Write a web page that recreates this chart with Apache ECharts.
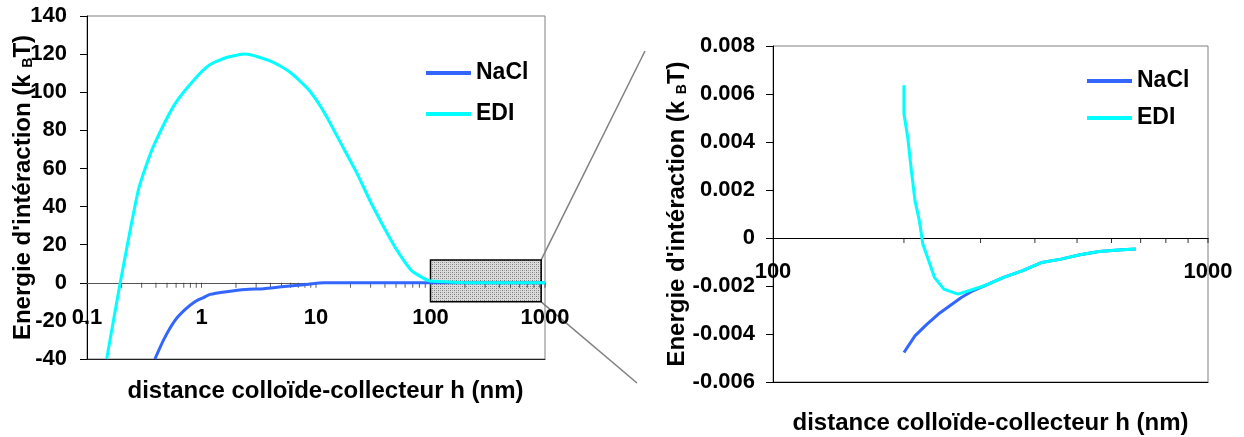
<!DOCTYPE html>
<html lang="fr">
<head>
    <meta charset="UTF-8">
    <title>Energie d'intéraction</title>
    <style>
        html, body { margin: 0; padding: 0; background: #fff; }
        #main { width: 1244px; height: 437px; }
    </style>
</head>
<body>
    <div id="main"></div>

    <script src="https://cdn.jsdelivr.net/npm/echarts@6/dist/echarts.min.js"></script>
    <script>
        // --- données ---
        // vue d'ensemble : h en nm, énergie en kBT
        const ediH   = [0.1485, 0.195, 0.279, 0.327, 0.392, 0.581, 0.863, 1.19, 1.71, 2.41, 4.05, 5.79, 8.6, 11.9, 17.0, 22.7, 30.2, 46.5, 57.7, 69.1, 85.8, 100];
        const ediE   = [-40, 0, 48, 61.2, 73.4, 93.5, 106.6, 114.5, 118.5, 120, 116.2, 111, 101.4, 89, 71.7, 57.7, 42, 21, 12.2, 6.1, 2.6, 0.9];
        const naclH  = [0.392, 0.469, 0.581, 0.721, 0.895, 1.03, 1.19, 1.65, 2.43, 3.5, 5.0, 7.8, 11.9, 30, 100];
        const naclE  = [-40, -29.7, -20.1, -14, -9.6, -7.9, -6.1, -4.7, -3.5, -3.1, -2.1, -1, 0, 0, 0];

        // zoom 100-1000 nm
        const zEdiH  = [200, 200, 204, 208, 212, 217, 221, 228, 235, 247, 266, 282, 306, 339, 375, 415, 459, 508, 562, 622, 682];
        const zEdiE  = [0.00636, 0.00518, 0.0042, 0.00281, 0.00156, 0.00072, -0.00025, -0.00095, -0.00164, -0.00213, -0.00234, -0.0022, -0.00199, -0.00164, -0.00136, -0.00102, -0.00088, -0.0007, -0.00056, -0.0005, -0.00046];
        const zNaclH = [200, 212, 226, 240, 255, 271, 288, 306, 339, 375, 415, 459, 508, 562, 622, 682];
        const zNaclE = [-0.00477, -0.00408, -0.00359, -0.00317, -0.00282, -0.00248, -0.0022, -0.00199, -0.00164, -0.00136, -0.00102, -0.00088, -0.0007, -0.00056, -0.0005, -0.00046];

        // fin de courbe (vue d'ensemble) jusqu'à 1000 nm
        const tailH = [1000];
        const tailE = [0];

        // axes
        const leftY  = { min: -40, max: 140, interval: 20 };
        const rightY = { min: -0.006, max: 0.008, interval: 0.002 };

        // graduations mineures (axe log)
        const leftDecades  = [0.1, 1, 10, 100];
        const rightDecades = [100];
        const multipliers  = [2, 3, 4, 5, 6, 7, 8, 9, 10];

        // zone agrandie (rectangle grisé)
        const zoomBox = { h: [100, 926], e: [-10, 12] };

        const FONT = 'Arial, "Liberation Sans", sans-serif';
        const BLUE = '#3366FF';
        const CYAN = '#00FFFF';
        const G1 = { left: 87, top: 16, width: 458, height: 343 };
        const G2 = { left: 773, top: 46, width: 435, height: 336 };

        const pairs = (xs, ys) => xs.map((x, i) => [x, ys[i]]);
        const ticks = decades => decades.flatMap(d => multipliers.map(m => [+(d * m).toPrecision(3), 0]));
        // décalage de l'axe x pour qu'il passe par y = 0
        const zeroOffset = (g, y) => -g.height * (0 - y.min) / (y.max - y.min);

        // motif pointillé du rectangle
        const pc = document.createElement('canvas');
        pc.width = 4; pc.height = 4;
        const pctx = pc.getContext('2d');
        pctx.fillStyle = '#dcdcdc';
        pctx.fillRect(0, 0, 4, 4);
        pctx.fillStyle = '#777';
        pctx.fillRect(0, 0, 1, 1);
        pctx.fillRect(2, 2, 1, 1);
        pctx.fillStyle = '#aaa';
        pctx.fillRect(2, 0, 1, 1);
        pctx.fillRect(0, 2, 1, 1);

        const labelStyle = { color: '#000', fontSize: 22, fontWeight: 'bold', fontFamily: FONT };
        const nameStyle = {
            color: '#000', fontSize: 24, fontWeight: 'bold', fontFamily: FONT,
            rich: { sub: { color: '#000', fontSize: 14, fontWeight: 'bold', fontFamily: FONT, verticalAlign: 'bottom', lineHeight: 16 } }
        };
        const yName = "Energie d'intéraction (k {sub|B}T)";
        const xName = 'distance colloïde-collecteur h (nm)';
        const logLabel = v => String(+(+v).toPrecision(6));

        const legendBase = {
            data: ['NaCl', 'EDI'], orient: 'vertical', icon: 'rect',
            itemWidth: 45, itemHeight: 4,
            textStyle: { color: '#000', fontSize: 23, fontWeight: 'bold', fontFamily: FONT, lineHeight: 24 }
        };

        const chart = echarts.init(document.getElementById('main'));

        chart.setOption({
            backgroundColor: '#fff',
            animation: false,
            grid: [
                Object.assign({ show: true, borderColor: '#808080', borderWidth: 1, containLabel: false, outerBoundsMode: 'none' }, G1),
                Object.assign({ show: true, borderColor: '#808080', borderWidth: 1, containLabel: false, outerBoundsMode: 'none' }, G2)
            ],
            legend: [
                Object.assign({}, legendBase, { left: 421, top: 56, itemGap: 17 }),
                Object.assign({}, legendBase, { left: 1082, top: 64, itemGap: 13 })
            ],
            xAxis: [
                {
                    type: 'log', logBase: 10, min: 0.1, max: 1000, gridIndex: 0, position: 'bottom',
                    offset: zeroOffset(G1, leftY),
                    axisLine: { onZero: false, lineStyle: { color: '#555', width: 1 } },
                    axisTick: { show: false },
                    splitLine: { show: false },
                    axisLabel: Object.assign({ margin: 24, formatter: logLabel }, labelStyle),
                    name: xName, nameLocation: 'middle', nameGap: 97, nameMoveOverlap: false,
                    nameTextStyle: Object.assign({}, nameStyle, { padding: [0, 0, 0, 19] })
                },
                {
                    type: 'log', logBase: 10, min: 0.1, max: 1000, gridIndex: 0, position: 'bottom',
                    axisLine: { onZero: false, lineStyle: { color: '#222', width: 1 } },
                    axisTick: { show: false }, axisLabel: { show: false }, splitLine: { show: false }
                },
                {
                    type: 'log', logBase: 10, min: 100, max: 1000, gridIndex: 1, position: 'bottom',
                    offset: zeroOffset(G2, rightY),
                    axisLine: { onZero: false, lineStyle: { color: '#000', width: 1 } },
                    axisTick: { show: false },
                    splitLine: { show: false },
                    axisLabel: Object.assign({ margin: 23, formatter: logLabel }, labelStyle),
                    name: xName, nameLocation: 'middle', nameGap: 173, nameMoveOverlap: false,
                    nameTextStyle: nameStyle
                },
                {
                    type: 'log', logBase: 10, min: 100, max: 1000, gridIndex: 1, position: 'bottom',
                    axisLine: { onZero: false, lineStyle: { color: '#000', width: 1 } },
                    axisTick: { show: false }, axisLabel: { show: false }, splitLine: { show: false }
                }
            ],
            yAxis: [
                {
                    type: 'value', min: leftY.min, max: leftY.max, interval: leftY.interval, gridIndex: 0,
                    axisLine: { show: true, onZero: false, lineStyle: { color: '#000' } },
                    axisTick: { show: true, length: 7, lineStyle: { color: '#000' } },
                    splitLine: { show: false },
                    axisLabel: Object.assign({ margin: 20 }, labelStyle),
                    name: yName, nameLocation: 'middle', nameGap: 52, nameRotate: 90, nameMoveOverlap: false,
                    nameTextStyle: nameStyle
                },
                {
                    type: 'value', min: rightY.min, max: rightY.max, interval: rightY.interval, gridIndex: 1,
                    axisLine: { show: true, onZero: false, lineStyle: { color: '#000' } },
                    axisTick: { show: true, length: 7, lineStyle: { color: '#000' } },
                    splitLine: { show: false },
                    axisLabel: Object.assign({
                        margin: 18,
                        formatter: v => Math.abs(v) < 1e-9 ? '0' : v.toFixed(3)
                    }, labelStyle),
                    name: yName, nameLocation: 'middle', nameGap: 84, nameRotate: 90, nameMoveOverlap: false,
                    nameTextStyle: nameStyle
                }
            ],
            series: [
                {
                    name: 'NaCl', type: 'line', xAxisIndex: 0, yAxisIndex: 0,
                    data: pairs(naclH.concat(zNaclH, tailH), naclE.concat(zNaclE, tailE)),
                    symbol: 'none', smooth: 0.2,
                    lineStyle: { color: BLUE, width: 3 }, itemStyle: { color: BLUE },
                    z: 3
                },
                {
                    name: 'EDI', type: 'line', xAxisIndex: 0, yAxisIndex: 0,
                    data: pairs(ediH.concat(zEdiH, tailH), ediE.concat(zEdiE, tailE)),
                    symbol: 'none', smooth: 0.2,
                    lineStyle: { color: CYAN, width: 3 }, itemStyle: { color: CYAN },
                    z: 4,
                    markArea: {
                        silent: true,
                        itemStyle: { color: { image: pc, repeat: 'repeat' }, borderColor: '#000', borderWidth: 1.5 },
                        data: [[{ coord: [zoomBox.h[0], zoomBox.e[0]] }, { coord: [zoomBox.h[1], zoomBox.e[1]] }]]
                    }
                },
                {
                    name: 'ticksLeft', type: 'scatter', xAxisIndex: 0, yAxisIndex: 0,
                    data: ticks(leftDecades), silent: true,
                    symbol: 'rect', symbolSize: [1, 5], symbolOffset: [0, 2.5],
                    itemStyle: { color: '#333' }, z: 2
                },
                {
                    name: 'NaCl', type: 'line', xAxisIndex: 2, yAxisIndex: 1,
                    data: pairs(zNaclH, zNaclE),
                    symbol: 'none', lineStyle: { color: BLUE, width: 3 }, itemStyle: { color: BLUE },
                    z: 3
                },
                {
                    name: 'EDI', type: 'line', xAxisIndex: 2, yAxisIndex: 1,
                    data: pairs(zEdiH, zEdiE),
                    symbol: 'none', lineStyle: { color: CYAN, width: 3 }, itemStyle: { color: CYAN },
                    z: 4
                },
                {
                    name: 'ticksRight', type: 'scatter', xAxisIndex: 2, yAxisIndex: 1,
                    data: ticks(rightDecades), silent: true,
                    symbol: 'rect', symbolSize: [1, 5], symbolOffset: [0, 2.5],
                    itemStyle: { color: '#000' }, z: 2
                }
            ]
        });

        // traits reliant le rectangle au graphique agrandi
        const finder = { xAxisIndex: 0, yAxisIndex: 0 };
        const topCorner = chart.convertToPixel(finder, [zoomBox.h[1], zoomBox.e[1]]);
        const botCorner = chart.convertToPixel(finder, [zoomBox.h[1], zoomBox.e[0]]);
        chart.setOption({
            graphic: [
                { type: 'line', silent: true, shape: { x1: topCorner[0], y1: topCorner[1], x2: 645, y2: 51 }, style: { stroke: '#808080', lineWidth: 1.5 } },
                { type: 'line', silent: true, shape: { x1: botCorner[0], y1: botCorner[1], x2: 637, y2: 383 }, style: { stroke: '#808080', lineWidth: 1.5 } }
            ]
        });
    </script>
</body>
</html>
